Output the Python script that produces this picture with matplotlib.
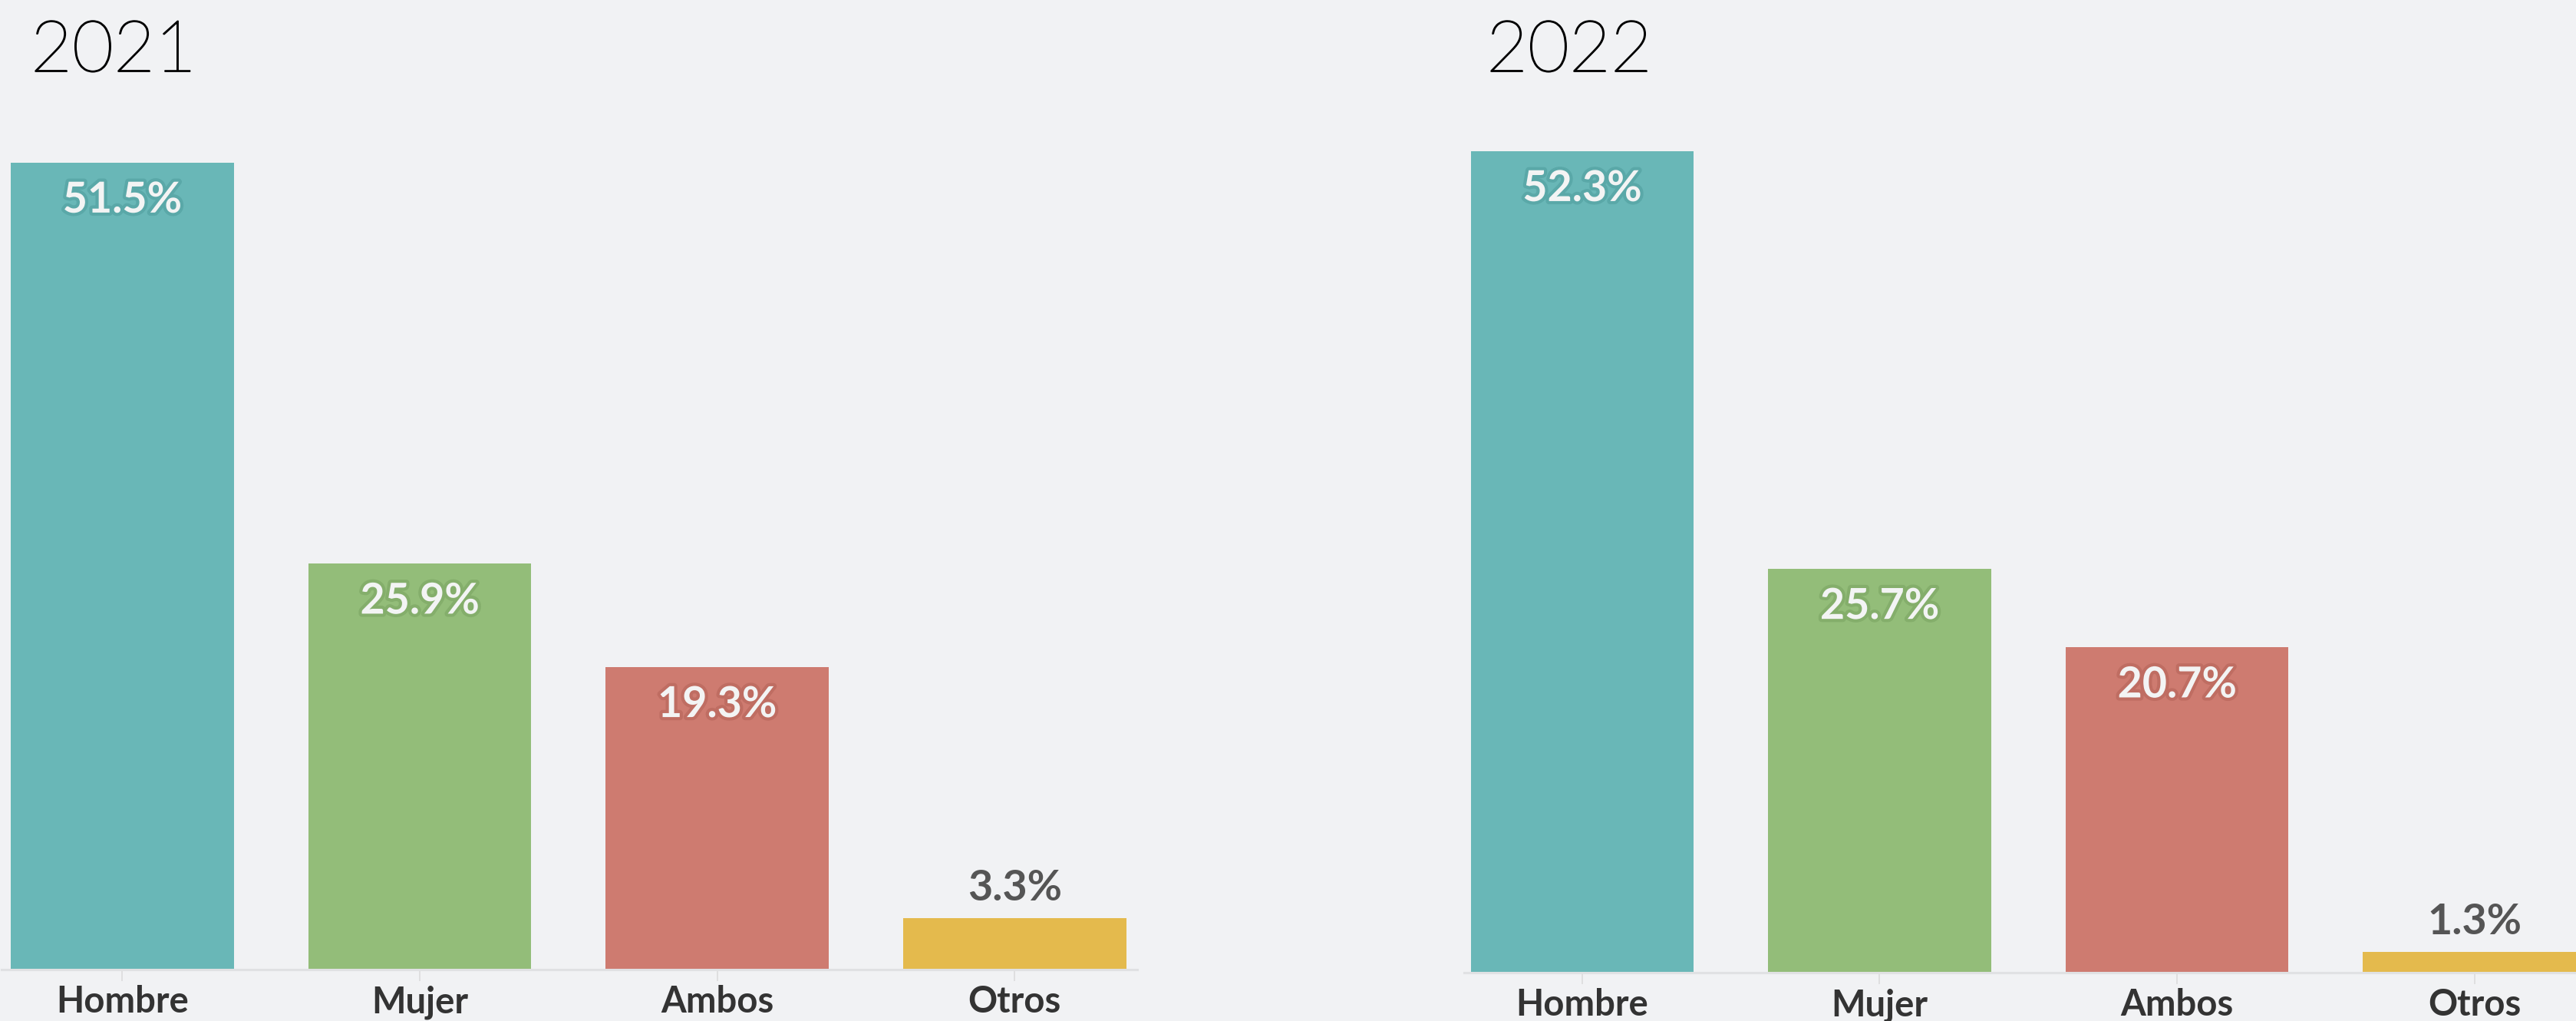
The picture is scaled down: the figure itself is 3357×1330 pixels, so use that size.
import matplotlib.pyplot as plt
import matplotlib.patheffects as pe

# data
categories = ["Hombre", "Mujer", "Ambos", "Otros"]
years = ["2021", "2022"]
values_2021 = [51.5, 25.9, 19.3, 3.3]
values_2022 = [52.3, 25.7, 20.7, 1.3]
colors = ["#69b7b7", "#93bd79", "#ce7b70", "#e4ba4d"]
halo = ["#5aa8a8", "#84ae6b", "#bf6d62", "#d4aa40"]

bg = "#f1f2f4"
W, H = 3357, 1330
fig = plt.figure(figsize=(W / 100, H / 100), dpi=100, facecolor=bg)
font = ["Lato", "DejaVu Sans"]

# panel boxes in pixels: left, baseline(from top), xlim, px per unit, title x
panels = [
    (2, 1263, (-0.406, 3.413), 20.41, 40, values_2021),
    (1908, 1267, (-0.397, 3.42), 20.46, 1937, values_2022),
]

for (left, base, xlim, ppu, tx, vals), year in zip(panels, years):
    width = (xlim[1] - xlim[0]) * 387.6
    top = 55
    ax = fig.add_axes([left / W, (H - base) / H, width / W, top * ppu / H])
    ax.set_facecolor(bg)
    ax.bar(range(len(categories)), vals, width=0.75, color=colors, zorder=2)
    ax.set_xlim(*xlim)
    ax.set_ylim(0, top)
    for s in ["top", "left", "right"]:
        ax.spines[s].set_visible(False)
    ax.spines["bottom"].set_color("#e0e1e3")
    ax.spines["bottom"].set_linewidth(2.2)
    ax.set_yticks([])
    ax.set_xticks(range(len(categories)))
    ax.set_xticklabels(categories, fontsize=34, fontweight="bold",
                       color="#333333", family=font)
    ax.tick_params(axis="x", length=11, width=1.2, color="#dcdcdc", pad=3.5)

    for i, v in enumerate(vals):
        label = f"{v:.1f}%"
        if v >= 10:
            ax.annotate(label, (i, v), xytext=(0, -65), textcoords="offset pixels",
                        ha="center", va="baseline", fontsize=40, fontweight="bold",
                        color="#f3f4f4", family=font,
                        path_effects=[pe.withStroke(linewidth=6, foreground=halo[i])])
        else:
            ax.annotate(label, (i, v), xytext=(0, 23), textcoords="offset pixels",
                        ha="center", va="baseline", fontsize=40, fontweight="bold",
                        color="#555555", family=font)

    # light title, slightly thickened
    fig.text(tx / W, (H - 93) / H, year, fontsize=67, fontweight="light",
             color="#000000", family=font, va="baseline",
             path_effects=[pe.withStroke(linewidth=1.3, foreground="#000000")])

fig.savefig("out.png", dpi=100, facecolor=bg)
